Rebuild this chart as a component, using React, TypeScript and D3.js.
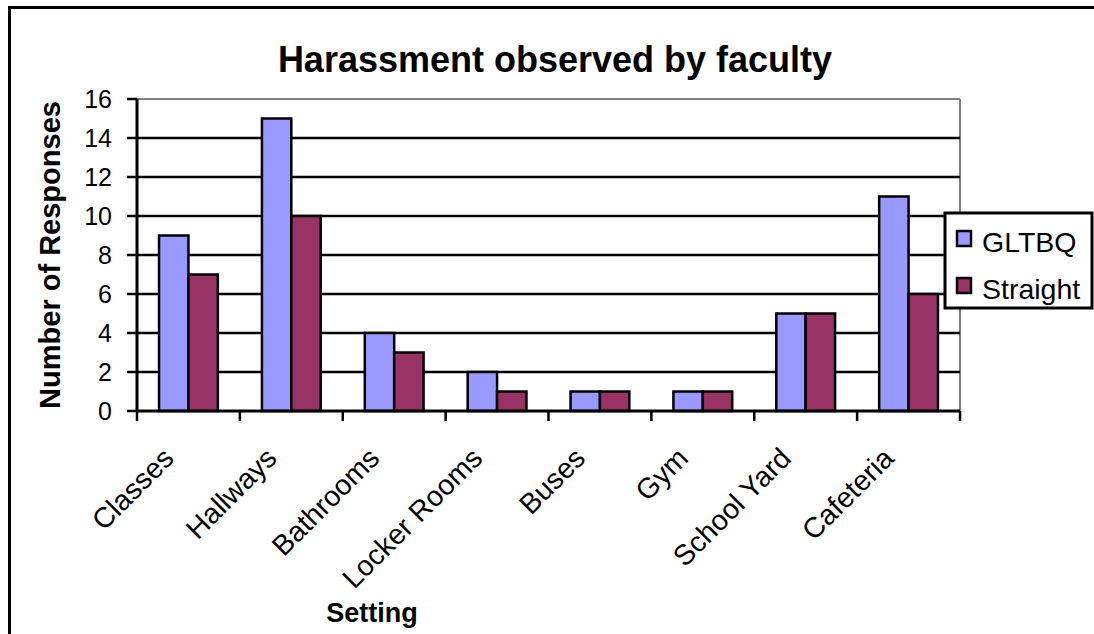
import React from "react";
import * as d3 from "d3";

const categories = ["Classes", "Hallways", "Bathrooms", "Locker Rooms", "Buses", "Gym", "School Yard", "Cafeteria"];
const seriesNames = ["GLTBQ", "Straight"];
const gltbq = [9, 15, 4, 2, 1, 1, 5, 11];
const straight = [7, 10, 3, 1, 1, 1, 5, 6];
const yTicks = [0, 2, 4, 6, 8, 10, 12, 14, 16];
const colors = ["#9999FF", "#993366"];
const title = "Harassment observed by faculty";
const xTitle = "Setting";
const yTitle = "Number of Responses";

const W = 1094, H = 634;
const plot = { left: 137, right: 960, top: 99, bottom: 411 };
const FONT = "Arial, 'Liberation Sans', sans-serif";

export default function App() {
  const x = d3.scaleBand<string>().domain(categories).range([plot.left, plot.right]).paddingInner(0).paddingOuter(0);
  const xi = d3.scaleBand<string>().domain(seriesNames).range([0, x.bandwidth()]).paddingInner(0).paddingOuter(0.75);
  const y = d3.scaleLinear().domain([0, 16]).range([plot.bottom, plot.top]);
  const data = [gltbq, straight];
  const tickXs = d3.range(categories.length + 1).map(i => plot.left + i * x.step());

  return (
    <div style={{ position: "absolute", left: 0, top: 0, width: W, height: H, overflow: "hidden", background: "#fff" }}>
      <svg width={W} height={H} style={{ display: "block" }} fontFamily={FONT}>
        <rect x={0} y={0} width={W} height={H} fill="#fff" />
        {/* outer frame (left and top visible) */}
        <path d={`M9.5,${H}V7.5H${W}`} fill="none" stroke="#000" strokeWidth={3} />
        {/* plot border (gray) */}
        <line x1={plot.left} x2={plot.right} y1={plot.top} y2={plot.top} stroke="#808080" strokeWidth={2} />
        <line x1={plot.right} x2={plot.right} y1={plot.top} y2={plot.bottom} stroke="#808080" strokeWidth={2} />
        {/* gridlines */}
        {yTicks.filter(t => t > 0 && t < 16).map(t => (
          <line key={t} x1={plot.left} x2={plot.right} y1={y(t)} y2={y(t)} stroke="#000" strokeWidth={2.5} />
        ))}
        {/* bars */}
        {categories.map((c, i) => (
          <g key={c}>
            {seriesNames.map((s, j) => {
              const bx = (x(c) as number) + (xi(s) as number);
              const v = data[j][i];
              return (
                <rect key={s} x={bx} y={y(v)} width={xi.bandwidth()} height={y(0) - y(v)}
                  fill={colors[j]} stroke="#000" strokeWidth={2.5} />
              );
            })}
          </g>
        ))}
        {/* y axis */}
        <line x1={plot.left} x2={plot.left} y1={plot.top} y2={plot.bottom} stroke="#000" strokeWidth={3} />
        {yTicks.map(t => (
          <g key={t}>
            <line x1={plot.left - 10} x2={plot.left} y1={y(t)} y2={y(t)} stroke="#000" strokeWidth={2.5} />
            <text x={112} y={y(t)} dy="0.36em" textAnchor="end" fontSize={25} fill="#000">{t}</text>
          </g>
        ))}
        {/* x axis */}
        <line x1={plot.left} x2={plot.right} y1={plot.bottom} y2={plot.bottom} stroke="#000" strokeWidth={3} />
        {tickXs.map((tx, i) => (
          <line key={i} x1={tx} x2={tx} y1={plot.bottom} y2={plot.bottom + 10} stroke="#000" strokeWidth={2.5} />
        ))}
        {categories.map(c => {
          const cx = (x(c) as number) + x.bandwidth() / 2 - 13;
          return (
            <text key={c} transform={`translate(${cx},460) rotate(-45)`} textAnchor="end" fontSize={28.5} fill="#000">{c}</text>
          );
        })}
        {/* titles */}
        <text x={555} y={72} textAnchor="middle" fontSize={36} fontWeight="bold" fill="#000">{title}</text>
        <text transform="translate(60,255) rotate(-90)" textAnchor="middle" fontSize={29} fontWeight="bold" fill="#000">{yTitle}</text>
        <text x={372} y={622} textAnchor="middle" fontSize={27} fontWeight="bold" fill="#000">{xTitle}</text>
        {/* legend */}
        <rect x={945} y={213} width={147} height={95} fill="#fff" stroke="#000" strokeWidth={3} />
        {seriesNames.map((s, j) => (
          <g key={s}>
            <rect x={957} y={231 + j * 47} width={14} height={15} fill={colors[j]} stroke="#000" strokeWidth={2.5} />
            <text x={982} y={252 + j * 47} fontSize={28.5} fill="#000">{s}</text>
          </g>
        ))}
      </svg>
    </div>
  );
}
